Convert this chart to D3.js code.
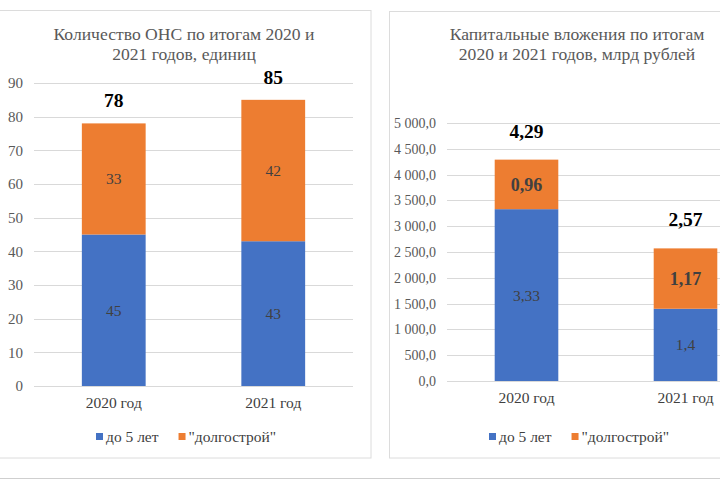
<!DOCTYPE html>
<html><head><meta charset="utf-8">
<script src="https://cdnjs.cloudflare.com/ajax/libs/d3/7.8.5/d3.min.js"></script>
<style>
html,body{margin:0;padding:0;background:#fff;}
svg text{font-family:'Liberation Serif','DejaVu Serif','Noto Serif','Times New Roman',Times,serif !important;}
</style></head>
<body>
<script>
// ---- data ----
const categories = ["2020 год", "2021 год"];
const seriesNames = ["до 5 лет", "\"долгострой\""];
// Left chart: number of objects (units)
const countShort = [45, 43];
const countLong = [33, 42];
const countTotals = ["78", "85"];
const countTicks = [0, 10, 20, 30, 40, 50, 60, 70, 80, 90];
// Right chart: capital investment (mln rub on axis, labels in bln)
const investShort = [3330, 1400];
const investLong = [960, 1170];
const investShortLabels = ["3,33", "1,4"];
const investLongLabels = ["0,96", "1,17"];
const investTotals = ["4,29", "2,57"];
const investTicks = [0, 500, 1000, 1500, 2000, 2500, 3000, 3500, 4000, 4500, 5000];

const colors = ["#4472C4", "#ED7D31"];
const W = 720, H = 480;
const svg = d3.select("body").append("svg").attr("width", W).attr("height", H);

// panel frames
svg.append("rect").attr("x", -2).attr("y", 10.5).attr("width", 373).attr("height", 447.5)
  .attr("fill", "none").attr("stroke", "#dcdcdc");
svg.append("rect").attr("x", 389.5).attr("y", 11.5).attr("width", 340).attr("height", 446.5)
  .attr("fill", "none").attr("stroke", "#dcdcdc");
svg.append("line").attr("x1", 0).attr("x2", W).attr("y1", 478.5).attr("y2", 478.5)
  .attr("stroke", "#cfcfcf");

const ruLocale = d3.formatLocale({decimal: ",", thousands: "\u00a0", grouping: [3], currency: ["", ""]});

function drawChart(cfg) {
  const g = svg.append("g");
  const x = d3.scaleBand().domain(categories).range(cfg.xRange).paddingInner(0.6).paddingOuter(0.3);
  const y = d3.scaleLinear().domain(cfg.yDomain).range(cfg.yRange);

  // grid
  g.selectAll(".grid").data(cfg.ticks).join("line")
    .attr("x1", cfg.xRange[0]).attr("x2", cfg.gridEnd)
    .attr("y1", d => Math.round(y(d)) + 0.5).attr("y2", d => Math.round(y(d)) + 0.5)
    .attr("stroke", "#d9d9d9").attr("stroke-width", 1);

  // y axis
  const yAxis = d3.axisLeft(y).tickValues(cfg.ticks).tickFormat(cfg.tickFormat).tickSize(0).tickPadding(0);
  const ya = g.append("g").attr("transform", `translate(${cfg.yLabelX},0)`).call(yAxis);
  ya.select(".domain").remove();
  ya.selectAll("text").attr("fill", "#595959").attr("font-size", cfg.tickSize);

  // x axis labels
  const xAxis = d3.axisBottom(x).tickSize(0).tickPadding(0);
  const xa = g.append("g").attr("transform", `translate(0,${cfg.xLabelY})`).call(xAxis);
  xa.select(".domain").remove();
  xa.selectAll("text").attr("fill", "#404040").attr("font-size", 15.5).attr("dy", 0);

  const stacks = categories.map((c, i) => {
    const a = cfg.s1[i], b = cfg.s2[i];
    return {c, i, segs: [{k: 0, y0: 0, y1: a, lab: cfg.l1[i]}, {k: 1, y0: a, y1: a + b, lab: cfg.l2[i]}]};
  });

  stacks.forEach(st => {
    st.segs.forEach(s => {
      g.append("rect")
        .attr("x", x(st.c)).attr("width", x.bandwidth())
        .attr("y", y(s.y1)).attr("height", y(s.y0) - y(s.y1))
        .attr("fill", colors[s.k]);
      g.append("text")
        .attr("x", x(st.c) + x.bandwidth() / 2)
        .attr("y", (y(s.y0) + y(s.y1)) / 2)
        .attr("dy", "0.35em").attr("text-anchor", "middle")
        .attr("fill", "#404040")
        .attr("font-size", cfg.segBold[s.k] ? 18 : 15.5)
        .attr("font-weight", cfg.segBold[s.k] ? "bold" : "normal")
        .text(s.lab);
    });
    g.append("text")
      .attr("x", x(st.c) + x.bandwidth() / 2)
      .attr("y", y(st.segs[1].y1) - cfg.totalOffset)
      .attr("text-anchor", "middle").attr("fill", "#000")
      .attr("font-size", 19.5).attr("font-weight", "bold")
      .text(cfg.totals[st.i]);
  });

  // title
  cfg.title.forEach((t, i) => {
    g.append("text").attr("x", cfg.titleX).attr("y", cfg.titleY + i * 20)
      .attr("text-anchor", "middle").attr("fill", "#595959").attr("font-size", 17.6).text(t);
  });

  // legend
  const lg = g.append("g").attr("transform", `translate(${cfg.legendX},${cfg.legendY})`);
  let off = 0;
  seriesNames.forEach((n, i) => {
    lg.append("rect").attr("x", off).attr("y", -9).attr("width", 7).attr("height", 7).attr("fill", colors[i]);
    const t = lg.append("text").attr("x", off + 10).attr("y", 0).attr("fill", "#404040")
      .attr("font-size", 15.5).text(n);
    off += t.node().getComputedTextLength() + 10 + 20;
  });
}

drawChart({
  xRange: [34, 353], gridEnd: 353,
  yDomain: [0, 90], yRange: [386, 83],
  ticks: countTicks, tickFormat: d3.format("d"), tickSize: 15, yLabelX: 23,
  xLabelY: 408,
  s1: countShort, s2: countLong,
  l1: countShort.map(String), l2: countLong.map(String),
  segBold: [false, false],
  totals: countTotals, totalOffset: 16,
  title: ["Количество ОНС по итогам 2020 и", "2021 годов, единиц"], titleX: 184, titleY: 40,
  legendX: 96, legendY: 442
});

drawChart({
  xRange: [447, 765], gridEnd: 765,
  yDomain: [0, 5000], yRange: [381, 123],
  ticks: investTicks, tickFormat: ruLocale.format(",.1f"), tickSize: 14, yLabelX: 436,
  xLabelY: 403,
  s1: investShort, s2: investLong,
  l1: investShortLabels, l2: investLongLabels,
  segBold: [false, true],
  totals: investTotals, totalOffset: 22,
  title: ["Капитальные вложения по итогам", "2020 и 2021 годов, млрд рублей"], titleX: 577, titleY: 40,
  legendX: 489, legendY: 442
});
</script>
</body></html>
